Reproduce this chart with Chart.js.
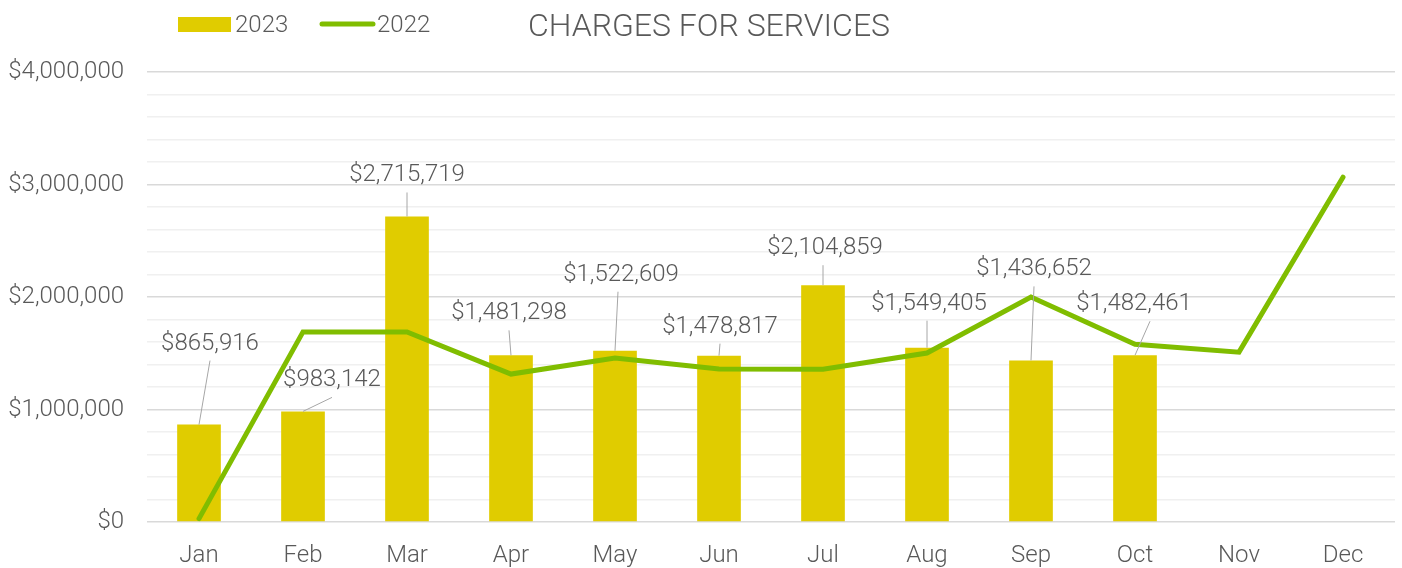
<!DOCTYPE html>
<html>
<head>
<meta charset="utf-8">
<title>Charges for Services</title>
<script src="https://cdn.jsdelivr.net/npm/chart.js@4.4.1/dist/chart.umd.min.js"></script>
<style>
  html, body { margin: 0; padding: 0; background: #fff; }
  #wrap { width: 1402px; height: 568px; }
</style>
</head>
<body>
<div id="wrap"><canvas id="chargesChart" width="1402" height="568"></canvas></div>
<script>
// data
const months = ['Jan', 'Feb', 'Mar', 'Apr', 'May', 'Jun', 'Jul', 'Aug', 'Sep', 'Oct', 'Nov', 'Dec'];
const charges2023 = [865916, 983142, 2715719, 1481298, 1522609, 1478817, 2104859, 1549405, 1436652, 1482461, null, null];
const charges2022 = [30000, 1690000, 1690000, 1315000, 1458000, 1360000, 1358000, 1502000, 2000000, 1580000, 1510000, 3065000];
const chartTitle = 'CHARGES FOR SERVICES';

const textColor = '#595959';
const fontFamily = 'Roboto, "Open Sans", sans-serif';

// label placement, px from bar top: [dx, dy, leader end dx]
const labelOffsets = [
  [11, -83, 0], [29, -33, 0], [0, -43, 0], [-2, -44, 0], [6, -78, -3],
  [1, -31, 0], [2, -39, -2], [2, -46, -2], [3, -93, 0], [-1, -53, 16]
];

function money(v) {
  return '$' + Math.round(v).toLocaleString('en-US');
}

// value labels with leader lines
const barLabels = {
  id: 'barLabels',
  afterDatasetsDraw(chart) {
    const ctx = chart.ctx;
    const meta = chart.getDatasetMeta(0);
    ctx.save();
    ctx.font = '300 24px ' + fontFamily;
    ctx.textAlign = 'center';
    ctx.textBaseline = 'middle';
    meta.data.forEach((bar, i) => {
      const v = charges2023[i];
      if (v == null) return;
      const off = labelOffsets[i];
      const lx = bar.x + off[0];
      const ly = bar.y + off[1];
      ctx.strokeStyle = '#a6a6a6';
      ctx.lineWidth = 1;
      ctx.beginPath();
      ctx.moveTo(bar.x, bar.y);
      ctx.lineTo(lx + off[2], ly + 19);
      ctx.stroke();
      ctx.fillStyle = textColor;
      ctx.fillText(money(v), lx, ly + 2);
    });
    ctx.restore();
  }
};

// legend + title on one row
const headerRow = {
  id: 'headerRow',
  afterDraw(chart) {
    const ctx = chart.ctx;
    const ds = chart.data.datasets;
    ctx.save();
    ctx.font = '300 24px ' + fontFamily;
    ctx.textBaseline = 'middle';
    ctx.textAlign = 'left';
    ctx.fillStyle = ds[0].backgroundColor;
    ctx.fillRect(178, 17, 53, 15);
    ctx.fillStyle = textColor;
    ctx.fillText(ds[0].label, 235, 26);

    ctx.strokeStyle = ds[1].borderColor;
    ctx.lineWidth = 5;
    ctx.lineCap = 'round';
    ctx.beginPath();
    ctx.moveTo(322, 24);
    ctx.lineTo(373, 24);
    ctx.stroke();
    ctx.fillText(ds[1].label, 377, 26);

    ctx.font = '300 32px ' + fontFamily;
    ctx.textAlign = 'center';
    ctx.fillText(chartTitle, 709, 28);
    ctx.restore();
  }
};

new Chart(document.getElementById('chargesChart'), {
  data: {
    labels: months,
    datasets: [
      {
        type: 'bar',
        label: '2023',
        data: charges2023,
        backgroundColor: '#e0cc00',
        barPercentage: 0.42,
        categoryPercentage: 1,
        order: 2
      },
      {
        type: 'line',
        label: '2022',
        data: charges2022,
        borderColor: '#80bd00',
        backgroundColor: '#80bd00',
        borderWidth: 5,
        borderCapStyle: 'round',
        pointRadius: 0,
        tension: 0,
        order: 1
      }
    ]
  },
  options: {
    responsive: false,
    animation: false,
    layout: { padding: { top: 72, right: 7, left: 0, bottom: 0 } },
    plugins: {
      legend: { display: false },
      title: { display: false },
      tooltip: { enabled: false }
    },
    scales: {
      x: {
        grid: { display: false, drawTicks: false },
        border: { display: false },
        ticks: {
          color: textColor,
          font: { family: fontFamily, size: 24, weight: '300' },
          padding: 20
        },
        afterFit(scale) { scale.height = 46; }
      },
      y: {
        min: 0,
        max: 4000000,
        border: { display: false },
        grid: {
          drawTicks: false,
          lineWidth: 1.5,
          color(c) {
            return c.tick && c.tick.value % 1000000 === 0 ? '#d9d9d9' : '#f0f0f0';
          }
        },
        ticks: {
          stepSize: 200000,
          autoSkip: false,
          color: textColor,
          font: { family: fontFamily, size: 24, weight: '300' },
          padding: 23,
          callback(v) {
            return v % 1000000 === 0 ? money(v) : '';
          }
        },
        afterFit(scale) { scale.width = 147; }
      }
    }
  },
  plugins: [barLabels, headerRow]
});
</script>
</body>
</html>
